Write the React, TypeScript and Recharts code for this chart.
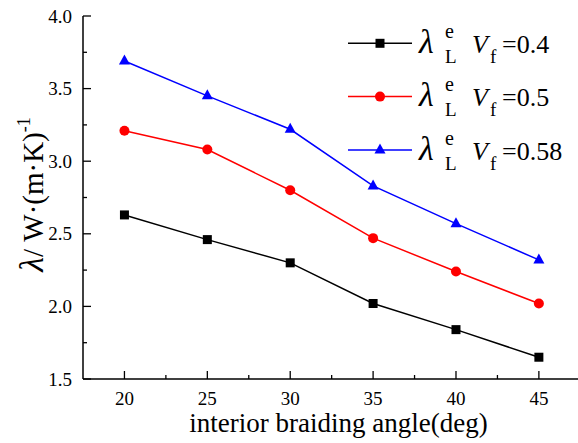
import React from "react";
import { Legend, Line, LineChart, XAxis, YAxis } from "recharts";

const angles = [20, 25, 30, 35, 40, 45];
const vf04 = [2.63, 2.46, 2.3, 2.02, 1.84, 1.65];
const vf05 = [3.21, 3.08, 2.8, 2.47, 2.24, 2.02];
const vf058 = [3.69, 3.45, 3.22, 2.83, 2.57, 2.32];

const xTicks = [20, 22.5, 25, 27.5, 30, 32.5, 35, 37.5, 40, 42.5, 45];
const yTicks = [1.5, 1.75, 2.0, 2.25, 2.5, 2.75, 3.0, 3.25, 3.5, 3.75, 4.0];
const legendLabels = ["0.4", "0.5", "0.58"];

const FONT = "Liberation Serif";

const data = angles.map((angle, i) => ({
  angle,
  a: vf04[i],
  b: vf05[i],
  c: vf058[i],
}));

const square = (cx: number, cy: number, key: string) => (
  <rect key={key} x={cx - 4.5} y={cy - 4.5} width={9} height={9} fill="#000000" />
);
const circle = (cx: number, cy: number, key: string) => (
  <circle key={key} cx={cx} cy={cy} r={5} fill="#ff0000" />
);
const triangle = (cx: number, cy: number, key: string) => (
  <polygon
    key={key}
    points={`${cx},${cy - 6.5} ${cx - 5.5},${cy + 3.5} ${cx + 5.5},${cy + 3.5}`}
    fill="#0000ff"
  />
);

const SERIES = [
  { key: "a", color: "#000000", marker: square },
  { key: "b", color: "#ff0000", marker: circle },
  { key: "c", color: "#0000ff", marker: triangle },
];

function BottomTick(props: any) {
  const { x, y, payload } = props;
  const major = payload.value % 5 === 0;
  return (
    <g>
      <line x1={x} y1={y} x2={x} y2={y - (major ? 8 : 4)} stroke="#000" strokeWidth={1.3} />
      {major && (
        <text x={x} y={y + 26} textAnchor="middle" style={{ fontFamily: FONT }} fontSize={19} fill="#000">
          {payload.value}
        </text>
      )}
    </g>
  );
}

function TopTick(props: any) {
  const { x, y, payload } = props;
  const major = payload.value % 5 === 0;
  return <line x1={x} y1={y} x2={x} y2={y + (major ? 8 : 4)} stroke="#000" strokeWidth={1.3} />;
}

function LeftTick(props: any) {
  const { x, y, payload } = props;
  const major = Math.round(payload.value * 100) % 50 === 0;
  return (
    <g>
      <line x1={x} y1={y} x2={x + (major ? 8 : 4)} y2={y} stroke="#000" strokeWidth={1.3} />
      {major && (
        <text x={x - 11} y={y} dy="0.35em" textAnchor="end" style={{ fontFamily: FONT }} fontSize={19} fill="#000">
          {payload.value.toFixed(1)}
        </text>
      )}
    </g>
  );
}

function XTitle(props: any) {
  const { x, y, width } = props.viewBox;
  return (
    <text x={x + width / 2 + 8} y={y + 53} textAnchor="middle" style={{ fontFamily: FONT }} fontSize={27} fill="#000">
      interior braiding angle(deg)
    </text>
  );
}

function YTitle(props: any) {
  const { y, height } = props.viewBox;
  const cx = 43;
  const cy = y + height / 2 - 3;
  return (
    <text
      x={cx}
      y={cy}
      textAnchor="middle"
      style={{ fontFamily: FONT }}
      fill="#000"
      transform={`rotate(-90, ${cx}, ${cy})`}
    >
      <tspan fontSize={34} fontStyle="italic">λ</tspan>
      <tspan fontSize={29}>/ W·(m·K)</tspan>
      <tspan fontSize={18} dy={-13}>-1</tspan>
    </text>
  );
}

function LegendBox() {
  return (
    <svg width={240} height={160} style={{ fontFamily: FONT }}>
      {SERIES.map((s, i) => {
        const base = 33 + 53.3 * i;
        const ly = base - 9.7;
        return (
          <g key={s.key} fill="#000">
            <line x1={18} y1={ly} x2={82} y2={ly} stroke={s.color} strokeWidth={1.5} />
            {s.marker(50, ly, `m${i}`)}
            <text x={89} y={base} fontSize={34} fontStyle="italic">λ</text>
            <text x={115} y={base - 15} fontSize={20}>e</text>
            <text x={115} y={base + 10} fontSize={19}>L</text>
            <text x={142} y={base} fontSize={26} fontStyle="italic">V</text>
            <text x={160} y={base + 10} fontSize={19}>f</text>
            <text x={172} y={base} fontSize={26}>={legendLabels[i]}</text>
          </g>
        );
      })}
    </svg>
  );
}

export default function App() {
  return (
    <div style={{ position: "absolute", left: 0, top: 0, width: 578, height: 443, background: "#fff" }}>
      <LineChart width={578} height={443} data={data} margin={{ top: 16, right: 0, bottom: 0, left: 0 }}>
        <XAxis
          dataKey="angle"
          type="number"
          domain={[17.5, 47.36]}
          allowDataOverflow
          ticks={xTicks}
          interval={0}
          height={64}
          tickSize={0}
          tickMargin={0}
          tickLine={false}
          tick={<BottomTick />}
          axisLine={{ stroke: "#000", strokeWidth: 1.5 }}
          label={<XTitle />}
        />
        <XAxis
          xAxisId="top"
          orientation="top"
          dataKey="angle"
          type="number"
          domain={[17.5, 47.36]}
          allowDataOverflow
          ticks={xTicks}
          interval={0}
          height={0}
          tickSize={0}
          tickMargin={0}
          tickLine={false}
          tick={<TopTick />}
          axisLine={{ stroke: "#000", strokeWidth: 1.5 }}
        />
        <YAxis
          type="number"
          domain={[1.5, 4.0]}
          allowDataOverflow
          ticks={yTicks}
          interval={0}
          width={83}
          tickSize={0}
          tickMargin={0}
          tickLine={false}
          tick={<LeftTick />}
          axisLine={{ stroke: "#000", strokeWidth: 1.5 }}
          label={<YTitle />}
        />
        <Legend
          layout="vertical"
          align="center"
          verticalAlign="middle"
          wrapperStyle={{ position: "absolute", left: 330, top: 20, width: 240, height: 160 }}
          content={() => <LegendBox />}
        />
        {SERIES.map((s) => (
          <Line
            key={s.key}
            dataKey={s.key}
            type="linear"
            stroke={s.color}
            strokeWidth={1.5}
            isAnimationActive={false}
            dot={(p: any) => s.marker(p.cx, p.cy, `${s.key}-${p.index}`)}
            activeDot={false}
          />
        ))}
      </LineChart>
    </div>
  );
}
